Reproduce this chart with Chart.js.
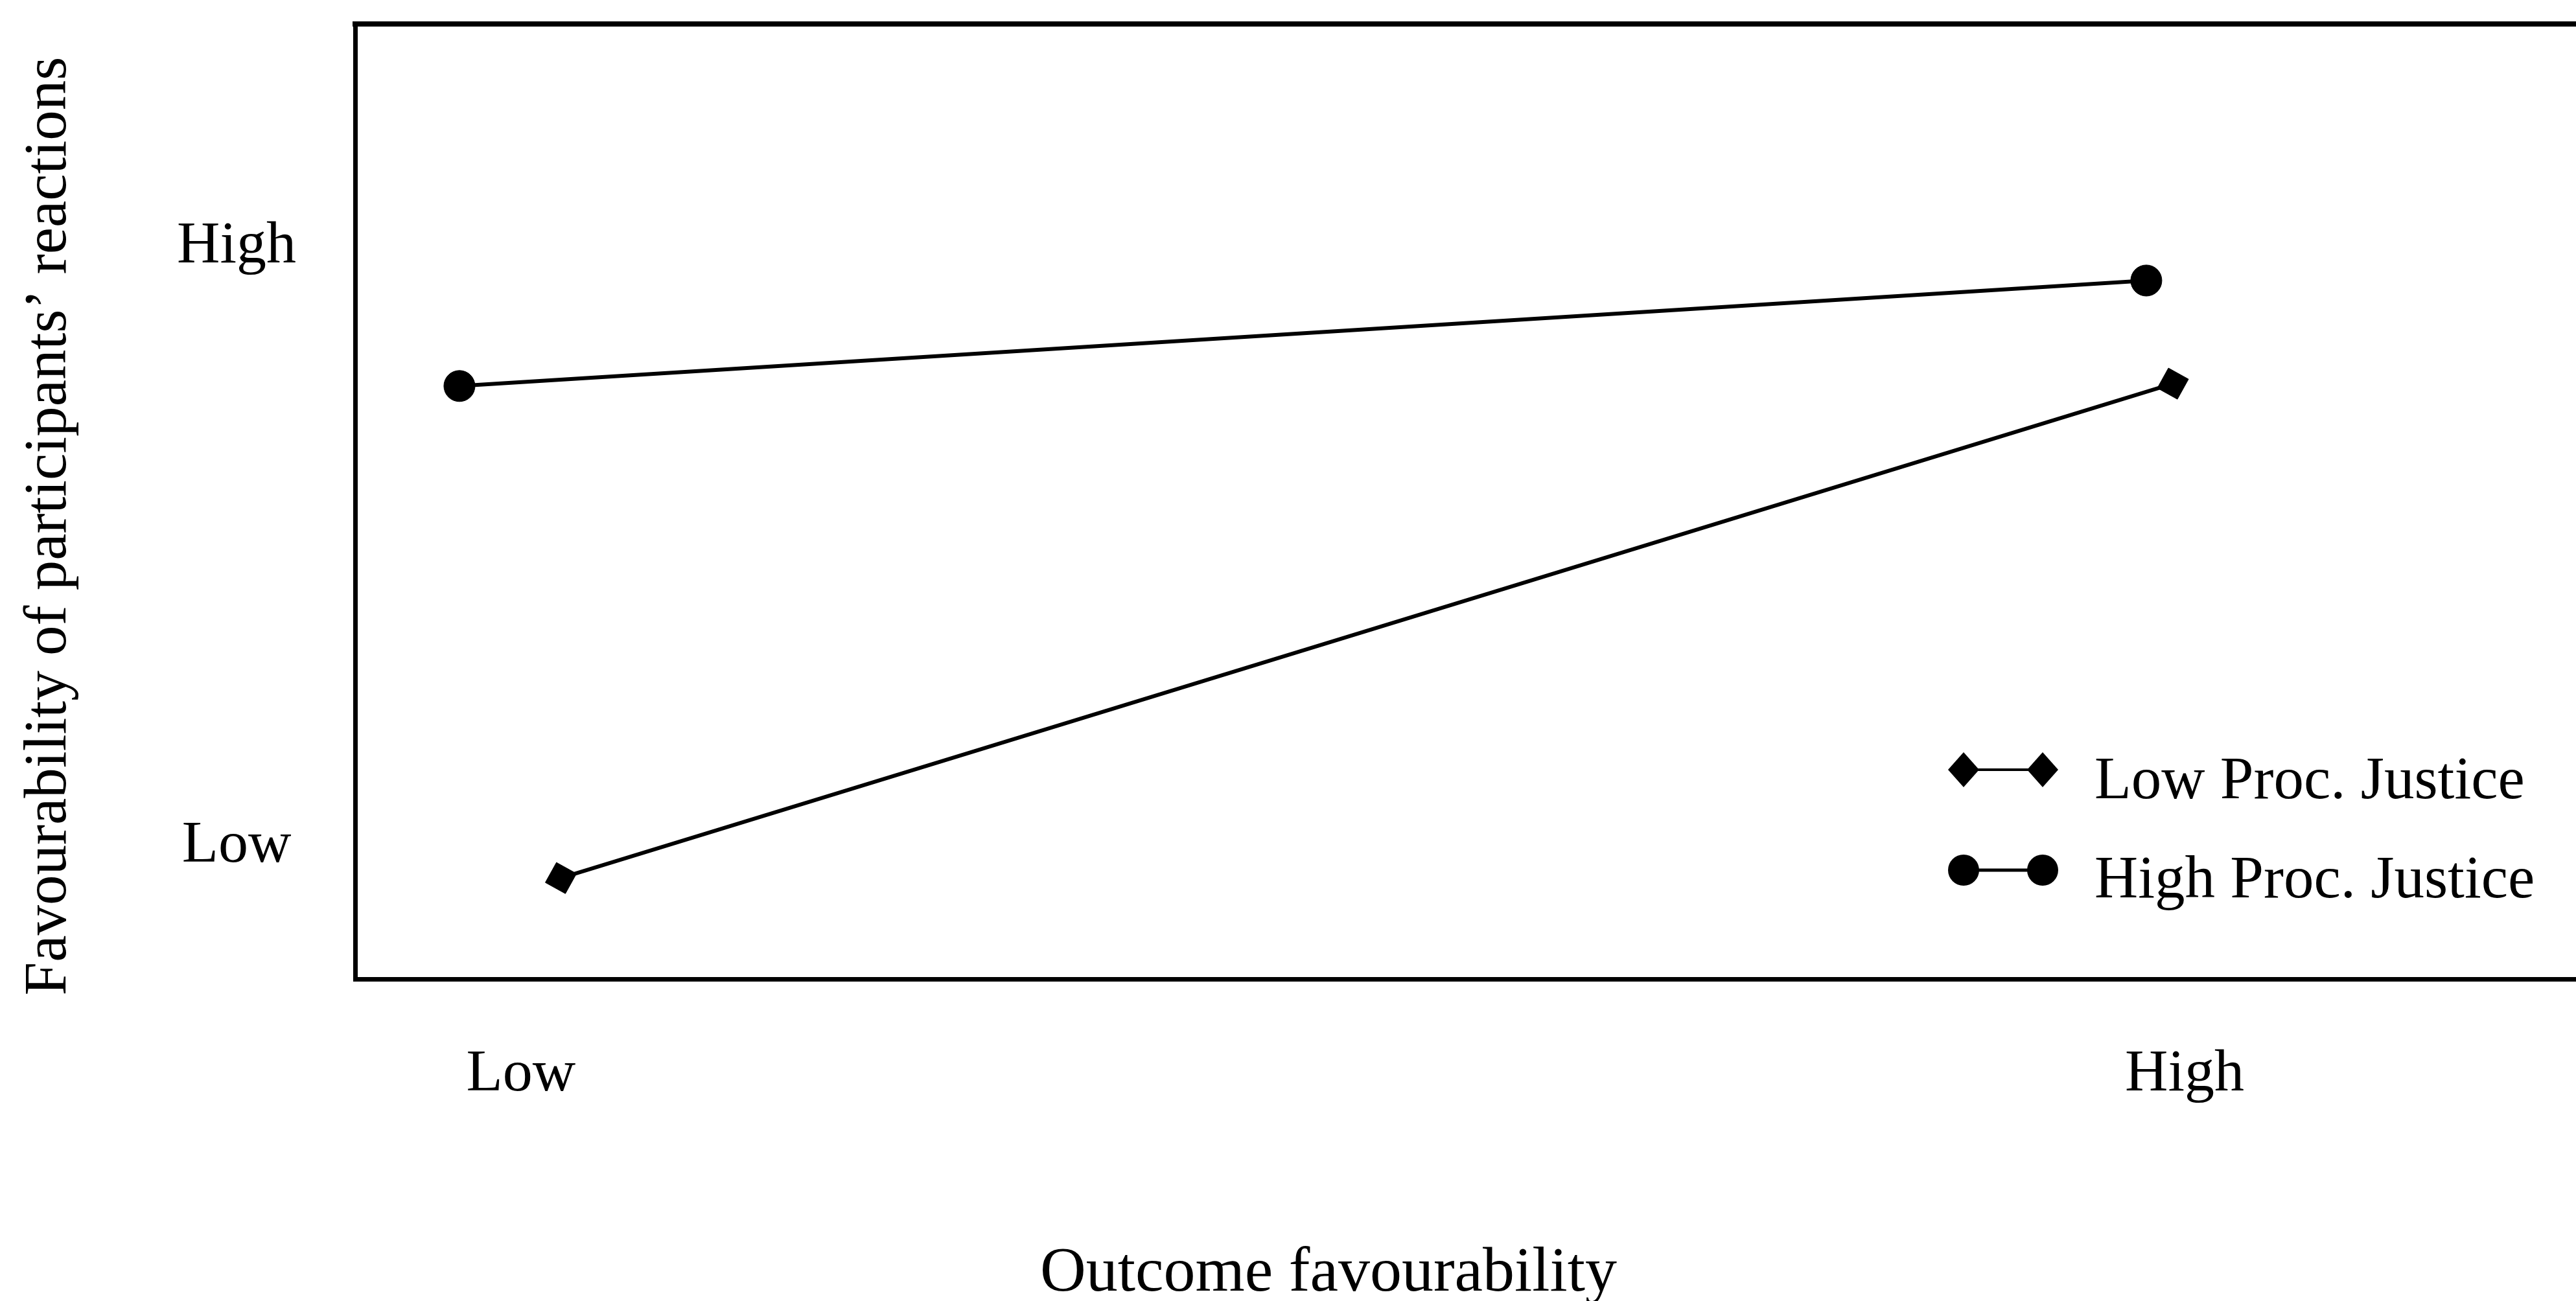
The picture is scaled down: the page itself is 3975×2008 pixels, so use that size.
<!DOCTYPE html>
<html>
<head>
<meta charset="utf-8">
<title>Outcome favourability and procedural justice</title>
<script src="https://cdn.jsdelivr.net/npm/chart.js@4.4.1/dist/chart.umd.min.js"></script>
<style>
  html, body { margin: 0; padding: 0; background: #fff; overflow: hidden; }
  #wrap { width: 4100px; height: 2008px; }
</style>
</head>
<body>
<div id="wrap"><canvas id="interaction-chart" width="4100" height="2008"></canvas></div>
<script>
const SERIF = '"Liberation Serif", "Times New Roman", Times, serif';

// factor levels, ticks sit at 0 (Low) and 1 (High) on both axes
const outcomeLevels = ['Low', 'High'];
const reactionLevels = ['Low', 'High'];
const levelValues = [0, 1];

const seriesNames = ['Low Proc. Justice', 'High Proc. Justice'];
const yTitle = 'Favourability of participants’ reactions';

// cell means (x nudged a little around each outcome level)
const lowJusticeX = [0.024, 0.993];
const lowJusticeY = [-0.064, 0.761];
const highJusticeX = [-0.037, 0.977];
const highJusticeY = [0.757, 0.933];

// axis extents
const xRange = [-0.0997, 1.284];
const yRange = [-0.2324, 1.3611];

const TITLE_SIZE = 98;
const TITLE_LINE = 0.86;

function toPoints(xs, ys) {
    return xs.map((x, i) => ({ x: x, y: ys[i] }));
}

// legend drawn inside the plot (marker - line - marker, then the label)
// plus the vertical axis caption
const lineLegend = {
    id: 'lineLegend',
    afterDraw(chart) {
        const ctx = chart.ctx;
        const rows = [
            { y: 1188, baseline: 1232 },
            { y: 1343, baseline: 1385 }
        ];
        const x1 = 3030, x2 = 3152, textX = 3232;
        ctx.save();
        chart.data.datasets.forEach((ds, i) => {
            const row = rows[i];
            ctx.strokeStyle = '#000';
            ctx.fillStyle = '#000';
            ctx.lineWidth = ds.legendMarker === 'diamond' ? 4 : 5;
            ctx.beginPath();
            ctx.moveTo(x1, row.y);
            ctx.lineTo(x2, row.y);
            ctx.stroke();
            [x1, x2].forEach(cx => {
                ctx.beginPath();
                if (ds.legendMarker === 'diamond') {
                    ctx.moveTo(cx, row.y - 27);
                    ctx.lineTo(cx + 24, row.y);
                    ctx.lineTo(cx, row.y + 27);
                    ctx.lineTo(cx - 24, row.y);
                    ctx.closePath();
                } else {
                    ctx.arc(cx, row.y, 24, 0, Math.PI * 2);
                }
                ctx.fill();
            });
            ctx.font = '93px ' + SERIF;
            ctx.textAlign = 'left';
            ctx.textBaseline = 'alphabetic';
            ctx.fillText(ds.label, textX, row.baseline);
        });

        // y caption, rotated
        ctx.translate(101, 812);
        ctx.rotate(-Math.PI / 2);
        ctx.font = '93px ' + SERIF;
        ctx.textAlign = 'center';
        ctx.textBaseline = 'alphabetic';
        ctx.fillStyle = '#000';
        ctx.fillText(yTitle, 0, 0);
        ctx.restore();
    }
};

const ctx = document.getElementById('interaction-chart').getContext('2d');

new Chart(ctx, {
    type: 'line',
    data: {
        datasets: [
            {
                label: seriesNames[0],
                data: toPoints(lowJusticeX, lowJusticeY),
                legendMarker: 'diamond',
                borderColor: '#000',
                borderWidth: 6,
                pointStyle: 'rect',
                pointRotation: 29,
                pointRadius: 25,
                pointBackgroundColor: '#000',
                pointBorderColor: '#000',
                pointBorderWidth: 1,
                tension: 0
            },
            {
                label: seriesNames[1],
                data: toPoints(highJusticeX, highJusticeY),
                legendMarker: 'circle',
                borderColor: '#000',
                borderWidth: 6,
                pointStyle: 'circle',
                pointRadius: 24,
                pointBackgroundColor: '#000',
                pointBorderColor: '#000',
                pointBorderWidth: 1,
                tension: 0
            }
        ]
    },
    options: {
        responsive: false,
        animation: false,
        events: [],
        layout: {
            autoPadding: false,
            padding: { top: 37, left: 0, right: 0, bottom: 0 }
        },
        plugins: {
            legend: { display: false },
            tooltip: { enabled: false },
            title: {
                display: true,
                position: 'bottom',
                text: 'Outcome favourability',
                color: '#000',
                padding: 0,
                font: { family: SERIF, size: TITLE_SIZE, weight: 'normal', lineHeight: TITLE_LINE }
            }
        },
        scales: {
            x: {
                type: 'linear',
                position: 'bottom',
                min: xRange[0],
                max: xRange[1],
                afterBuildTicks: (scale) => {
                    scale.ticks = levelValues.map(v => ({ value: v }));
                },
                afterFit: (scale) => {
                    scale.height = 2008 - 1511 - TITLE_SIZE * TITLE_LINE;
                    scale.paddingLeft = 0;
                    scale.paddingRight = 0;
                },
                grid: { display: false, drawTicks: false },
                border: { display: true, color: '#000', width: 7 },
                ticks: {
                    color: '#000',
                    padding: 93,
                    maxRotation: 0,
                    autoSkip: false,
                    font: { family: SERIF, size: 92 },
                    callback: (value, index) => outcomeLevels[index]
                }
            },
            xTop: {
                type: 'linear',
                axis: 'x',
                position: 'top',
                min: xRange[0],
                max: xRange[1],
                afterFit: (scale) => {
                    scale.height = 0;
                },
                grid: { display: false, drawTicks: false },
                ticks: { display: false },
                border: { display: true, color: '#000', width: 8 }
            },
            y: {
                type: 'linear',
                position: 'left',
                min: yRange[0],
                max: yRange[1],
                afterBuildTicks: (scale) => {
                    scale.ticks = levelValues.map(v => ({ value: v }));
                },
                afterFit: (scale) => {
                    scale.width = 548;
                    scale.paddingTop = 0;
                    scale.paddingBottom = 0;
                },
                grid: { display: false, drawTicks: false },
                border: { display: true, color: '#000', width: 7 },
                ticks: {
                    color: '#000',
                    padding: 91,
                    labelOffset: 10,
                    crossAlign: 'center',
                    autoSkip: false,
                    font: { family: SERIF, size: 92 },
                    callback: (value, index) => reactionLevels[index]
                }
            }
        }
    },
    plugins: [lineLegend]
});
</script>
</body>
</html>
